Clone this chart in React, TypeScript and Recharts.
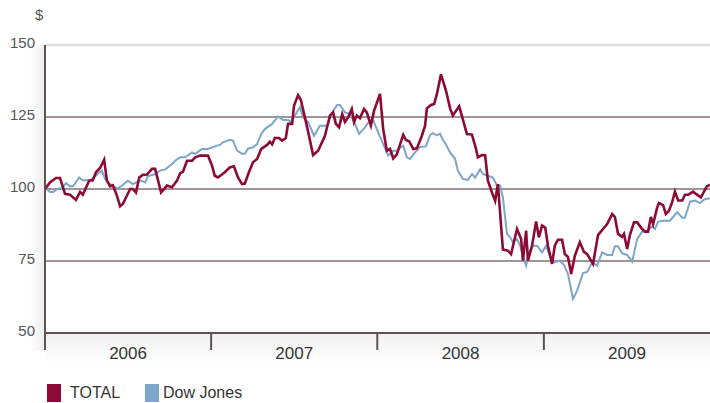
import React from 'react';
import { LineChart, Line, XAxis, YAxis, CartesianGrid, ReferenceLine } from 'recharts';

// Days since 1 Jan 2006, and indexed value ($100 invested)
const totalDays = [0, 11, 24, 33, 44, 55, 68, 77, 83, 97, 105, 112, 121, 130, 136, 143, 149, 158, 165, 171, 187, 193, 200, 207, 215, 224, 235, 242, 255, 268, 279, 290, 297, 303, 312, 323, 330, 341, 358, 367, 373, 380, 395, 406, 415, 424, 433, 439, 448, 457, 466, 475, 488, 494, 499, 505, 514, 521, 529, 534, 543, 547, 556, 562, 576, 589, 600, 615, 626, 633, 639, 646, 653, 659, 666, 674, 679, 685, 692, 701, 707, 716, 723, 736, 743, 751, 758, 765, 773, 787, 793, 800, 809, 817, 828, 835, 839, 848, 855, 861, 870, 881, 890, 896, 910, 927, 938, 947, 951, 960, 967, 973, 982, 989, 995, 1006, 1017, 1024, 1030, 1037, 1046, 1050, 1057, 1061, 1070, 1079, 1085, 1092, 1099, 1105, 1114, 1120, 1127, 1136, 1142, 1149, 1156, 1164, 1175, 1184, 1191, 1204, 1215, 1226, 1235, 1246, 1252, 1259, 1268, 1272, 1279, 1285, 1294, 1301, 1312, 1318, 1325, 1331, 1336, 1345, 1349, 1358, 1364, 1371, 1378, 1384, 1391, 1400, 1406, 1413, 1424, 1430, 1441, 1454, 1461];
const totalValues = [100, 102.3, 103.8, 103.8, 98.3, 98, 96.2, 99, 98, 102.9, 103, 105.8, 107.3, 110.2, 102.9, 100.9, 101.3, 97.7, 94, 94.8, 100, 100, 98.8, 104, 104.9, 105, 107, 107, 98.8, 101.2, 100.6, 102.9, 105.5, 106, 109.8, 109.8, 111, 111.6, 111.6, 108.1, 104.6, 104, 105.8, 107.5, 107.9, 104, 101.7, 101.9, 105.8, 109.3, 110.4, 113.9, 115.3, 116.4, 115.5, 117.7, 117.7, 116.8, 117.7, 122.6, 122.6, 128.9, 132.6, 131, 121.4, 111.8, 113.3, 118.5, 125.5, 126.6, 122.6, 121.4, 126, 123.3, 124.9, 127.8, 123.3, 125.5, 124.6, 127.8, 126.6, 122, 127.2, 133, 120.8, 113.3, 113.9, 110.6, 112, 118.8, 117, 116.6, 113.9, 114.1, 118.5, 122, 128, 129.2, 129.5, 133, 139.8, 134.1, 128, 125.5, 128.7, 119.1, 118.9, 113.9, 111, 111.8, 111.7, 102.9, 98.8, 95.9, 101.7, 79, 78.6, 77.4, 81.5, 86.1, 82.6, 75.1, 85.5, 75.1, 80.3, 88.7, 83.2, 87.3, 86.6, 80.3, 74, 80.3, 82.4, 82.4, 77.4, 76.4, 70.5, 76.8, 81.5, 78.2, 77.4, 74, 84, 86.1, 87.8, 91.3, 90.3, 84.4, 83.4, 84.4, 79.2, 84, 88.4, 88.4, 86.1, 85.2, 85.2, 90.3, 87.8, 93.6, 95.1, 94.4, 91.3, 92.5, 95.5, 99.1, 96, 96, 98, 98, 99.1, 98.3, 97.1, 100.9, 101.5];

const dowDays = [0, 11, 18, 29, 37, 46, 55, 62, 75, 83, 99, 110, 125, 132, 143, 149, 160, 171, 182, 193, 209, 220, 226, 242, 253, 264, 279, 286, 297, 308, 323, 330, 345, 358, 373, 384, 391, 406, 413, 422, 433, 439, 446, 457, 466, 475, 483, 499, 512, 523, 534, 540, 549, 560, 567, 578, 591, 604, 620, 631, 642, 648, 659, 670, 681, 690, 703, 714, 721, 729, 743, 754, 765, 773, 782, 787, 795, 802, 813, 824, 837, 846, 852, 861, 868, 874, 879, 890, 901, 907, 918, 929, 938, 945, 956, 962, 973, 984, 993, 1000, 1006, 1015, 1022, 1028, 1037, 1044, 1050, 1057, 1063, 1072, 1081, 1092, 1101, 1109, 1118, 1131, 1140, 1149, 1160, 1169, 1182, 1191, 1202, 1213, 1224, 1235, 1246, 1252, 1259, 1268, 1279, 1290, 1301, 1312, 1323, 1334, 1340, 1347, 1358, 1373, 1382, 1389, 1400, 1406, 1417, 1428, 1439, 1450, 1461];
const dowValues = [100.5, 99, 99, 100.2, 100.2, 102, 100.9, 101, 104, 103, 103, 104.4, 106.4, 103.5, 101.7, 101, 100.2, 101.4, 102.9, 101.7, 103, 102.3, 104.4, 105.2, 106.4, 106.8, 108.7, 109.8, 111, 111, 112.7, 112.2, 113.9, 113.9, 114.8, 115.3, 116.2, 117.1, 116.8, 113.3, 112.2, 112.2, 114, 114.5, 115.6, 119.1, 120.8, 122.6, 125.2, 124, 124, 123.3, 125.5, 128.4, 124.9, 123.2, 118.5, 122, 122, 126.6, 129.2, 129.2, 126.6, 126, 122.6, 119.1, 121.4, 123.9, 123.9, 120.8, 115.6, 111.6, 113.3, 113.3, 114.5, 115, 111, 110.4, 112.7, 114.6, 114.8, 118.8, 119.4, 118.6, 119.2, 117, 116, 112.7, 110.4, 106.4, 103.5, 103.2, 105.2, 104, 106.9, 105.2, 104.6, 104, 101.2, 101.2, 97.1, 84.4, 83.2, 81.5, 82.6, 80.3, 76.8, 73.4, 78, 80.3, 80.3, 78, 80.3, 76.8, 74.5, 75.1, 73.7, 70.5, 61.8, 64.7, 70.8, 71.2, 74.5, 73.4, 78, 77.1, 77.1, 80.1, 80.1, 77.6, 77.1, 74.8, 82.6, 85.2, 85.5, 87, 86.1, 88.7, 89, 89, 90.7, 91.9, 90, 90, 95.6, 96, 95.1, 96.5, 96.7];

const yearLabels = ['2006', '2007', '2008', '2009'];
const yearStarts = [0, 365, 730, 1096];
const periodEnd = 1461;
const yTicks = [50, 75, 100, 125, 150];

const seriesNames = ['TOTAL', 'Dow Jones'];
const seriesColors = ['#8C0A36', '#7DA5C9'];

const totalData = totalDays.map((d, i) => ({ day: d, value: totalValues[i] }));
const dowData = dowDays.map((d, i) => ({ day: d, value: dowValues[i] }));

const yearMids = yearStarts.map((s, i) => (s + (i + 1 < yearStarts.length ? yearStarts[i + 1] : periodEnd)) / 2);
const xTicks = [...yearStarts, ...yearMids].sort((a, b) => a - b);

const FONT = '"Liberation Sans", Arial, Helvetica, sans-serif';
const AXIS = '#5E5252';
const GRID = '#A09494';

const XTick = (props: any) => {
  const { x, y, payload } = props;
  const v = payload.value;
  if (yearStarts.indexOf(v) >= 0) {
    return <line x1={x} x2={x} y1={y} y2={y + 17} stroke={AXIS} strokeWidth={2} />;
  }
  const mi = yearMids.indexOf(v);
  return (
    <text x={x} y={y + 26} textAnchor="middle" fill="#333" fontSize={17} fontFamily={FONT}>
      {mi >= 0 ? yearLabels[mi] : ''}
    </text>
  );
};

const YTick = (props: any) => {
  const { x, y, payload } = props;
  return (
    <text x={x} y={y} dy={3} textAnchor="end" fill="#555" fontSize={15} fontFamily={FONT}>
      {payload.value}
    </text>
  );
};

export default function App() {
  return (
    <div style={{ position: 'absolute', left: 0, top: 0, width: 710, height: 403, background: '#fff', fontFamily: FONT, overflow: 'hidden' }}>
      <div style={{ position: 'absolute', left: 30, top: 45, width: 15, height: 305, background: 'linear-gradient(to left, rgba(0,0,0,0.07), rgba(0,0,0,0))' }} />
      <div style={{ position: 'absolute', left: 45, top: 333, width: 665, height: 30, background: 'linear-gradient(to bottom, rgba(0,0,0,0.06), rgba(0,0,0,0))' }} />
      <div style={{ position: 'absolute', left: 0, top: 0 }}>
        <LineChart width={710} height={403} margin={{ top: 45, right: 0, bottom: 40, left: 0 }}>
          <CartesianGrid vertical={false} stroke={GRID} strokeWidth={2} />
          <XAxis
            type="number"
            dataKey="day"
            domain={[0, periodEnd]}
            allowDataOverflow
            ticks={xTicks}
            interval={0}
            tick={<XTick />}
            tickLine={false}
            tickSize={0}
            tickMargin={0}
            height={30}
            axisLine={{ stroke: AXIS, strokeWidth: 2 }}
          />
          <YAxis
            type="number"
            domain={[50, 150]}
            ticks={yTicks}
            interval={0}
            width={45}
            tickLine={false}
            tickSize={6}
            tickMargin={4}
            tick={<YTick />}
            axisLine={{ stroke: AXIS, strokeWidth: 2 }}
          />
          <ReferenceLine y={150} stroke="#DCDCDC" strokeWidth={2.5} />
          <Line
            data={dowData}
            dataKey="value"
            name={seriesNames[1]}
            type="linear"
            stroke={seriesColors[1]}
            strokeWidth={2}
            dot={false}
            activeDot={false}
            isAnimationActive={false}
          />
          <Line
            data={totalData}
            dataKey="value"
            name={seriesNames[0]}
            type="linear"
            stroke={seriesColors[0]}
            strokeWidth={2.6}
            dot={false}
            activeDot={false}
            isAnimationActive={false}
          />
        </LineChart>
      </div>
      <div style={{ position: 'absolute', left: 35, top: 6, fontSize: 15, color: '#555' }}>$</div>
      <div style={{ position: 'absolute', left: 0, top: 384, height: 18 }}>
        <div style={{ position: 'absolute', left: 47, top: 0, width: 14, height: 18, background: seriesColors[0] }} />
        <div style={{ position: 'absolute', left: 70, top: 0, lineHeight: '18px', fontSize: 16, color: '#333', whiteSpace: 'nowrap' }}>{seriesNames[0]}</div>
        <div style={{ position: 'absolute', left: 145, top: 0, width: 14, height: 18, background: seriesColors[1] }} />
        <div style={{ position: 'absolute', left: 163, top: 0, lineHeight: '18px', fontSize: 16, color: '#333', whiteSpace: 'nowrap' }}>{seriesNames[1]}</div>
      </div>
    </div>
  );
}
